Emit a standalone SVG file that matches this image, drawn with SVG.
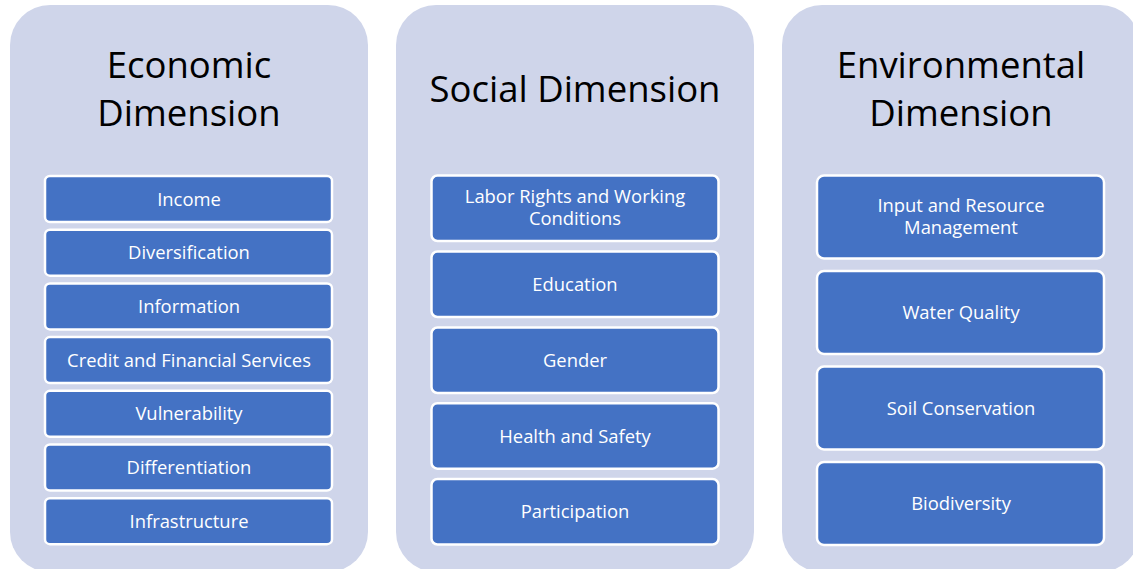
<svg xmlns="http://www.w3.org/2000/svg" width="1133" height="569" viewBox="0 0 1133 569">
<style>
.panel{fill:#CFD5EA}
.box{fill:#4472C4;stroke:#FFFFFF;stroke-width:2.5}
.title{font-family:"Open Sans","Liberation Sans",sans-serif;font-size:36.5px;fill:#000000;text-anchor:middle}
.lbl{font-family:"Open Sans","Liberation Sans",sans-serif;font-size:18.4px;fill:#FFFFFF;text-anchor:middle}
</style>
<rect width="1133" height="569" fill="#FFFFFF"/>
<g id="economic">
<rect class="panel" x="10" y="5" width="358" height="567" rx="40"/>
<text class="title" x="189" y="78">Economic<tspan x="189" dy="48">Dimension</tspan></text>
</g>
<g id="social">
<rect class="panel" x="396" y="5" width="358" height="567" rx="40"/>
<text class="title" x="575" y="102">Social Dimension</text>
</g>
<g id="environmental">
<rect class="panel" x="782" y="5" width="358" height="567" rx="40"/>
<text class="title" x="961" y="78">Environmental<tspan x="961" dy="48">Dimension</tspan></text>
</g>
<g id="income"><rect class="box" x="45" y="176" width="287" height="46" rx="5"/><text class="lbl" x="189" y="205.5">Income</text></g>
<g id="diversification"><rect class="box" x="45" y="229.7" width="287" height="46" rx="5"/><text class="lbl" x="189" y="259.2">Diversification</text></g>
<g id="information"><rect class="box" x="45" y="283.4" width="287" height="46" rx="5"/><text class="lbl" x="189" y="312.9">Information</text></g>
<g id="credit"><rect class="box" x="45" y="337.1" width="287" height="46" rx="5"/><text class="lbl" x="189" y="366.6">Credit and Financial Services</text></g>
<g id="vulnerability"><rect class="box" x="45" y="390.8" width="287" height="46" rx="5"/><text class="lbl" x="189" y="420.3">Vulnerability</text></g>
<g id="differentiation"><rect class="box" x="45" y="444.5" width="287" height="46" rx="5"/><text class="lbl" x="189" y="474">Differentiation</text></g>
<g id="infrastructure"><rect class="box" x="45" y="498.2" width="287" height="46" rx="5"/><text class="lbl" x="189" y="527.7">Infrastructure</text></g>
<g id="labor"><rect class="box" x="431.5" y="175.5" width="287" height="65.5" rx="6"/><text class="lbl" x="575" y="202.5">Labor Rights and Working<tspan x="575" dy="22">Conditions</tspan></text></g>
<g id="education"><rect class="box" x="431.5" y="251.5" width="287" height="65.5" rx="6"/><text class="lbl" x="575" y="290.8">Education</text></g>
<g id="gender"><rect class="box" x="431.5" y="327.5" width="287" height="65.5" rx="6"/><text class="lbl" x="575" y="366.8">Gender</text></g>
<g id="health"><rect class="box" x="431.5" y="403.2" width="287" height="65.5" rx="6"/><text class="lbl" x="575" y="442.5">Health and Safety</text></g>
<g id="participation"><rect class="box" x="431.5" y="479" width="287" height="65.5" rx="6"/><text class="lbl" x="575" y="518.3">Participation</text></g>
<g id="input"><rect class="box" x="817" y="175.5" width="287" height="83" rx="7"/><text class="lbl" x="961" y="211.8">Input and Resource<tspan x="961" dy="22">Management</tspan></text></g>
<g id="water"><rect class="box" x="817" y="271" width="287" height="83" rx="7"/><text class="lbl" x="961" y="319">Water Quality</text></g>
<g id="soil"><rect class="box" x="817" y="366.5" width="287" height="83" rx="7"/><text class="lbl" x="961" y="414.5">Soil Conservation</text></g>
<g id="biodiversity"><rect class="box" x="817" y="462" width="287" height="83" rx="7"/><text class="lbl" x="961" y="510">Biodiversity</text></g>
<g id="connectors"></g>
</svg>
